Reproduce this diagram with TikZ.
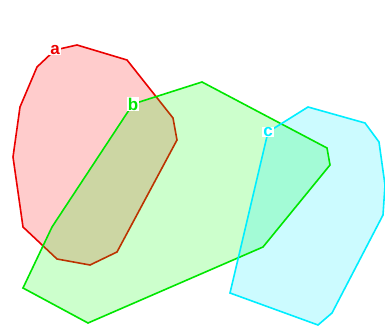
\documentclass[tikz,border=0pt]{standalone}
\usepackage{fontspec}
\setsansfont{Liberation Sans}
\definecolor{pcyan}{RGB}{0,238,255}
\definecolor{pgreen}{RGB}{0,230,0}
\definecolor{pred}{RGB}{235,0,0}
\begin{document}
\begin{tikzpicture}[x=1pt,y=-1pt,
  edge/.style={line width=1.6pt, line join=miter},
  lab/.style={fill=white, inner sep=0.8pt, font=\sffamily\bfseries\fontsize{17}{17}\selectfont}]
\useasboundingbox (0,0) rectangle (385,336);
\fill[white] (0,0) rectangle (385,336);
% red polygon a
\fill[red, opacity=0.2] (55,50) -- (77,45) -- (127,60) -- (173,118) -- (177,140) -- (117,252) -- (90,265) -- (57,259) -- (23,227) -- (13,157) -- (20,107) -- (37,67) -- cycle;
\draw[edge, pred] (55,50) -- (77,45) -- (127,60) -- (173,118) -- (177,140) -- (117,252) -- (90,265) -- (57,259) -- (23,227) -- (13,157) -- (20,107) -- (37,67) -- cycle;
% green polygon b
\fill[green, opacity=0.2] (133,104) -- (202,82) -- (327,148) -- (330,165) -- (263,247) -- (88,323) -- (23,288) -- (52,227) -- cycle;
% cyan polygon c
\fill[pcyan, opacity=0.2] (268,132) -- (308,107) -- (365,123) -- (379,142) -- (385,185) -- (383,215) -- (332,313) -- (318,325) -- (230,293) -- cycle;
\draw[edge, pgreen] (133,104) -- (202,82) -- (327,148) -- (330,165) -- (263,247) -- (88,323) -- (23,288) -- (52,227) -- cycle;
\draw[edge, pcyan] (268,132) -- (308,107) -- (365,123) -- (379,142) -- (385,185) -- (383,215) -- (332,313) -- (318,325) -- (230,293) -- cycle;
% labels
\node[lab, text=pred] (la) at (55,50) {a};
\node[lab, text=pgreen] (lb) at (133,104) {b};
\node[lab, text=pcyan] (lc) at (268,132) {c};
\end{tikzpicture}
\end{document}
